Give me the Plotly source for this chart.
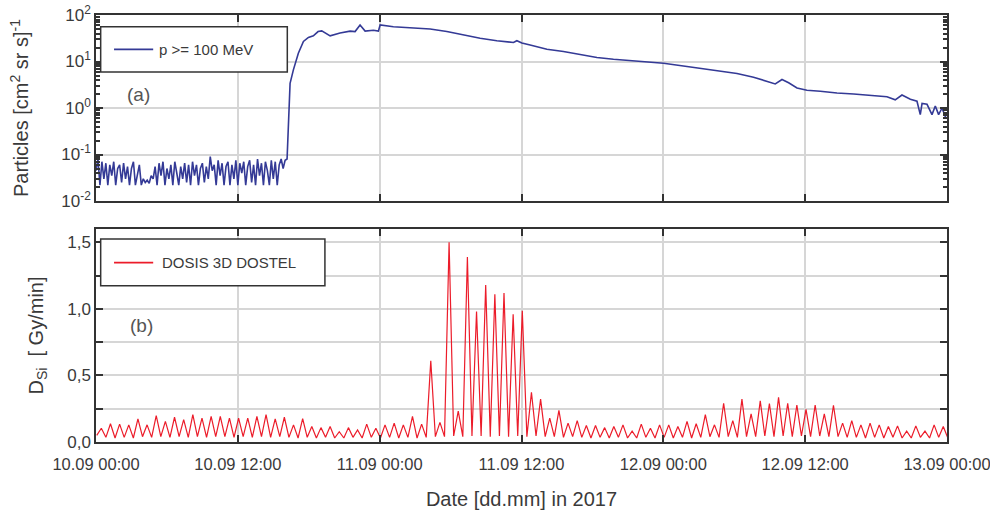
import pandas as pd
import plotly.graph_objects as go

START = pd.Timestamp("2017-09-10 00:00")
SPAN_H = 72

# (a) p >= 100 MeV flux, 10-minute samples before the onset (10.09 00:00 - 16:10)
BASE_FLUX = [
    0.045, 0.08, 0.022, 0.07, 0.03, 0.065,
    0.022, 0.06, 0.035, 0.07, 0.022, 0.05,
    0.06, 0.025, 0.065, 0.03, 0.055, 0.022,
    0.05, 0.07, 0.022, 0.04, 0.06, 0.022,
    0.03, 0.025, 0.028, 0.024, 0.035, 0.03,
    0.055, 0.022, 0.065, 0.035, 0.07, 0.022,
    0.05, 0.03, 0.06, 0.022, 0.07, 0.04,
    0.022, 0.055, 0.03, 0.065, 0.025, 0.06,
    0.022, 0.07, 0.035, 0.06, 0.022, 0.05,
    0.065, 0.025, 0.055, 0.03, 0.09, 0.045,
    0.06, 0.022, 0.075, 0.035, 0.065, 0.022,
    0.055, 0.07, 0.022, 0.06, 0.03, 0.075,
    0.022, 0.065, 0.04, 0.07, 0.022, 0.055,
    0.075, 0.025, 0.06, 0.022, 0.08, 0.035,
    0.065, 0.022, 0.07, 0.045, 0.022, 0.075,
    0.03, 0.07, 0.022, 0.06, 0.08, 0.05,
    0.075, 0.08,
]

# (a) after the onset: hours since 10.09 00:00 and flux
EVENT_HOURS = [
    16.29, 16.42, 16.70, 17.12, 17.55, 17.97, 18.39, 18.79, 19.10, 19.47,
    19.81, 20.65, 21.50, 21.92, 22.34, 22.77, 23.47, 23.89, 24.04, 25.16,
    26.86, 28.27, 29.68, 31.09, 32.50, 33.91, 35.32, 35.61, 36.03, 36.73,
    38.15, 39.55, 40.97, 42.38, 43.78, 45.20, 46.04, 48.02, 50.00, 51.41,
    52.81, 54.23, 55.63, 56.77, 57.47, 58.04, 58.60, 59.31, 60.15, 61.28,
    62.69, 64.10, 65.51, 66.92, 67.62, 68.19, 68.90, 69.46, 69.74, 69.89,
    70.31, 70.73, 71.01, 71.29, 71.58, 71.86, 72.00,
]
EVENT_FLUX = [
    0.5, 3.4, 6.6, 15, 27, 33, 35.6, 44, 45.5, 40,
    35.6, 41, 45, 44, 61, 45, 47, 45, 61, 56,
    52, 50, 44, 37, 31.6, 28, 25.7, 28, 25, 22.7,
    18.4, 16.4, 13.9, 12.2, 11.2, 10.5, 10.2, 9.2, 7.8, 7.0,
    6.1, 5.5, 4.6, 3.7, 3.3, 4.1, 3.5, 2.7, 2.4, 2.3,
    2.1, 2.0, 1.9, 1.75, 1.5, 1.9, 1.55, 1.4, 0.72, 1.25,
    1.2, 0.72, 1.1, 0.72, 1.0, 0.65, 0.6,
]

# (b) DOSTEL dose rate: maximum of each pass and minimum before it (Gy/min)
FIRST_PEAK_H = 0.45
PASS_STEP_H = 0.7743
PEAK_DOSE = [
    0.103, 0.137, 0.134, 0.129, 0.173, 0.129, 0.198, 0.155, 0.186, 0.168,
    0.206, 0.180, 0.193, 0.193, 0.180, 0.180, 0.180, 0.193, 0.206, 0.173,
    0.186, 0.129, 0.175, 0.116,
    0.108, 0.116, 0.077, 0.108, 0.090, 0.134, 0.103, 0.129, 0.142, 0.129,
    0.193, 0.134, 0.61, 0.147, 1.50, 0.232, 1.39, 0.98, 1.18, 1.11,
    1.12, 0.96, 0.985,
    0.374, 0.322, 0.180, 0.237, 0.142, 0.160, 0.124, 0.124, 0.108, 0.116,
    0.129, 0.082, 0.134, 0.103, 0.129, 0.129, 0.116, 0.155, 0.137, 0.206,
    0.129, 0.291, 0.160,
    0.322, 0.211, 0.309, 0.289, 0.335, 0.291, 0.278, 0.245, 0.278, 0.211,
    0.276, 0.142, 0.160, 0.129, 0.142, 0.129, 0.116, 0.121, 0.082, 0.121,
    0.082, 0.129, 0.116,
]
TROUGH_DOSE = [
    0.05, 0.035, 0.03, 0.035, 0.03, 0.04, 0.035, 0.04, 0.035, 0.04,
    0.035, 0.04, 0.035, 0.04, 0.04, 0.035, 0.04, 0.035, 0.04, 0.035,
    0.04, 0.035, 0.03, 0.035, 0.03, 0.035, 0.03, 0.03, 0.035, 0.03,
    0.035, 0.03, 0.035, 0.03, 0.035, 0.03, 0.035, 0.04, 0.04, 0.045,
    0.04, 0.045, 0.045, 0.04, 0.045, 0.04, 0.045, 0.04, 0.045, 0.04,
    0.04, 0.035, 0.04, 0.035, 0.03, 0.035, 0.03, 0.035, 0.03, 0.03,
    0.035, 0.03, 0.035, 0.03, 0.035, 0.03, 0.035, 0.04, 0.035, 0.04,
    0.035, 0.04, 0.04, 0.045, 0.04, 0.045, 0.04, 0.045, 0.04, 0.045,
    0.04, 0.04, 0.035, 0.035, 0.03, 0.035, 0.03, 0.035, 0.03, 0.03,
    0.035, 0.03, 0.035, 0.03,
]

TEXT = "#3a3a3a"
AXIS = "#333333"
GRID = "#d6d6d6"
FONT = "Liberation Sans, Arial, sans-serif"


def hours_to_time(hours):
    return [START + pd.Timedelta(hours=h) for h in hours]


flux_hours = [i / 6 for i in range(len(BASE_FLUX))] + EVENT_HOURS
flux_vals = BASE_FLUX + EVENT_FLUX

dose_hours, dose_vals = [], []
for k, peak in enumerate(PEAK_DOSE):
    t_peak = FIRST_PEAK_H + k * PASS_STEP_H
    dose_hours += [t_peak - PASS_STEP_H / 2, t_peak]
    dose_vals += [TROUGH_DOSE[k], peak]
dose_hours.append(FIRST_PEAK_H + len(PEAK_DOSE) * PASS_STEP_H - PASS_STEP_H / 2)
dose_vals.append(TROUGH_DOSE[len(PEAK_DOSE)])

fig = go.Figure()
fig.add_trace(go.Scatter(
    x=hours_to_time(flux_hours), y=flux_vals, mode="lines",
    line=dict(color="#343a96", width=1.6), xaxis="x", yaxis="y",
))
fig.add_trace(go.Scatter(
    x=hours_to_time(dose_hours), y=dose_vals, mode="lines",
    line=dict(color="#ec1c2a", width=1.2), xaxis="x2", yaxis="y2",
))

tick_times = hours_to_time(range(0, SPAN_H + 1, 12))
x_common = dict(
    type="date", automargin=False,
    range=[START, START + pd.Timedelta(hours=SPAN_H)],
    tickvals=tick_times,
    ticks="inside", ticklen=7, tickwidth=1.5, tickcolor=AXIS,
    showline=True, linecolor=AXIS, linewidth=1.5, mirror="ticks",
    showgrid=True, gridcolor=GRID, gridwidth=1.5, zeroline=False,
)
y_common = dict(
    automargin=False,
    ticks="inside", ticklen=7, tickwidth=1.5, tickcolor=AXIS,
    showline=True, linecolor=AXIS, linewidth=1.5, mirror="ticks",
    showgrid=True, gridcolor=GRID, gridwidth=1.5, zeroline=False,
    tickfont=dict(size=17, color=TEXT),
)

minor_vals = [m * 10 ** e for e in range(-2, 2) for m in range(2, 10)]

fig.update_layout(
    width=990, height=514,
    margin=dict(l=96, r=43, t=15, b=72),
    paper_bgcolor="white", plot_bgcolor="white",
    font=dict(family=FONT, color=TEXT),
    showlegend=False,
    xaxis=dict(**x_common, domain=[0, 1], anchor="y", matches="x2", showticklabels=False),
    xaxis2=dict(
        **x_common, domain=[0, 1], anchor="y2",
        ticktext=[t.strftime("%d.%m %H:%M") for t in tick_times],
        ticklabeloverflow="allow", ticklabelstandoff=6,
        tickfont=dict(size=16.5, color=TEXT),
        title=dict(text="Date [dd.mm] in 2017", font=dict(size=20, color=TEXT), standoff=20),
    ),
    yaxis=dict(
        **y_common, domain=[0.5644, 1], anchor="x", type="log", range=[-2, 2],
        tickvals=[0.01, 0.1, 1, 10, 100],
        ticktext=["10<sup>-2</sup>", "10<sup>-1</sup>", "10<sup>0</sup>",
                  "10<sup>1</sup>", "10<sup>2</sup>"],
        minor=dict(tickvals=minor_vals, ticks="inside", ticklen=4,
                   tickcolor=AXIS, showgrid=False),
        title=dict(text="Particles [cm<sup>2</sup> sr s]<sup>-1</sup>",
                   font=dict(size=20, color=TEXT), standoff=27),
    ),
    yaxis2=dict(
        **y_common, domain=[0, 0.4988], anchor="x2", range=[0, 1.6],
        tickvals=[0, 0.25, 0.5, 0.75, 1.0, 1.25, 1.5],
        ticktext=["0,0", "", "0,5", "", "1,0", "", "1,5"],
        title=dict(text="D<sub>Si</sub>  [ Gy/min]", font=dict(size=20, color=TEXT), standoff=18),
    ),
)

# legend boxes drawn inside each panel
for xref, yref, box, y_mid, text_x, label, color in [
    ("x domain", "y domain", (0.0055, 0.694, 0.2248, 0.937), 0.815, 0.0713, "p >= 100 MeV", "#343a96"),
    ("x2 domain", "y2 domain", (0.0055, 0.734, 0.269, 0.953), 0.842, 0.0755, "DOSIS 3D DOSTEL", "#ec1c2a"),
]:
    fig.add_shape(type="rect", xref=xref, yref=yref, x0=box[0], y0=box[1], x1=box[2], y1=box[3],
                  line=dict(color=AXIS, width=1.5), fillcolor="white", layer="above")
    fig.add_shape(type="line", xref=xref, yref=yref, x0=0.0212, x1=0.0672, y0=y_mid, y1=y_mid,
                  line=dict(color=color, width=1.6), layer="above")
    fig.add_annotation(xref=xref, yref=yref, x=text_x, y=y_mid,
                       text=label, showarrow=False, xanchor="left", yanchor="middle",
                       font=dict(size=15, color=TEXT))

fig.add_annotation(xref="x domain", yref="y domain", x=0.034, y=0.575, text="(a)",
                   showarrow=False, font=dict(size=19, color="#555555"))
fig.add_annotation(xref="x2 domain", yref="y2 domain", x=0.038, y=0.545, text="(b)",
                   showarrow=False, font=dict(size=19, color="#555555"))

fig.write_html(
    "out.html",
    config={"displayModeBar": False},
    post_script="document.body.style.margin = '0px';",
)
